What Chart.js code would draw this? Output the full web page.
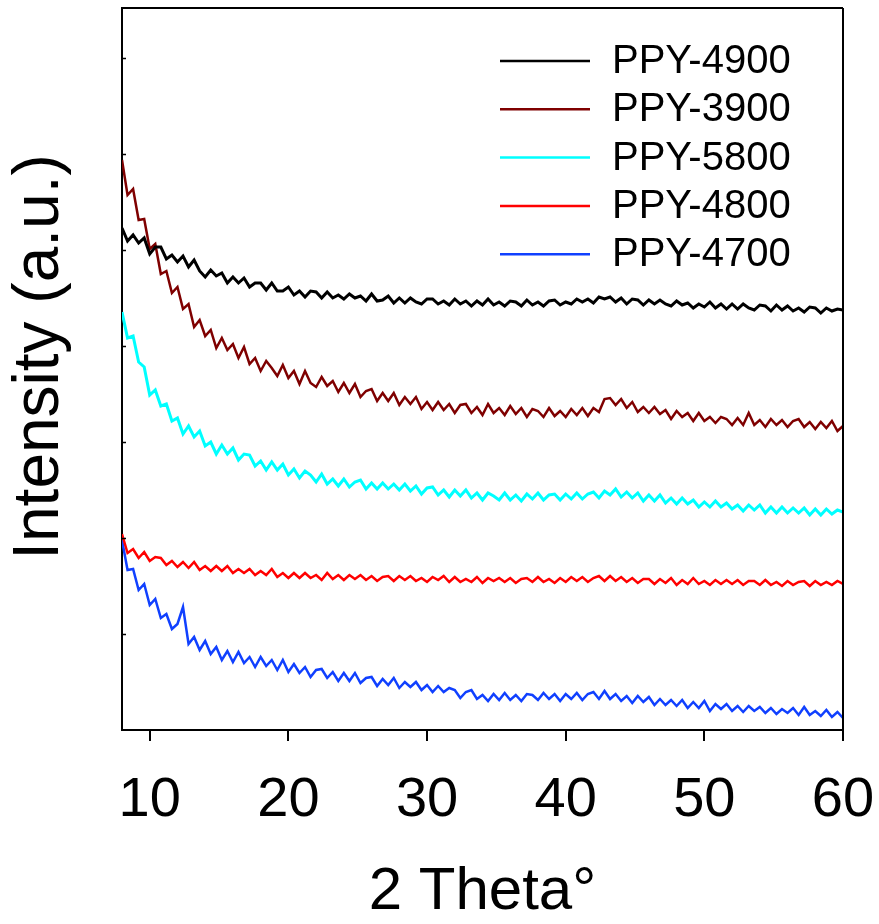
<!DOCTYPE html>
<html>
<head>
<meta charset="utf-8">
<script src="https://cdn.jsdelivr.net/npm/chart.js@4/dist/chart.umd.min.js"></script>
<style>
  html, body { margin: 0; padding: 0; background: #fff; }
  #wrap { width: 879px; height: 924px; position: relative; }
</style>
</head>
<body>
<div id="wrap"><canvas id="xrd"></canvas></div>
<script>
// XRD patterns (intensity in arbitrary units)
const theta = [
  8,8.4,8.8,9.2,9.6,10,10.4,10.8,11.2,11.6,
  12,12.4,12.8,13.2,13.6,14,14.4,14.8,15.2,15.6,
  16,16.4,16.8,17.2,17.6,18,18.4,18.8,19.2,19.6,
  20,20.4,20.8,21.2,21.6,22,22.4,22.8,23.2,23.6,
  24,24.4,24.8,25.2,25.6,26,26.4,26.8,27.2,27.6,
  28,28.4,28.8,29.2,29.6,30,30.4,30.8,31.2,31.6,
  32,32.4,32.8,33.2,33.6,34,34.4,34.8,35.2,35.6,
  36,36.4,36.8,37.2,37.6,38,38.4,38.8,39.2,39.6,
  40,40.4,40.8,41.2,41.6,42,42.4,42.8,43.2,43.6,
  44,44.4,44.8,45.2,45.6,46,46.4,46.8,47.2,47.6,
  48,48.4,48.8,49.2,49.6,50,50.4,50.8,51.2,51.6,
  52,52.4,52.8,53.2,53.6,54,54.4,54.8,55.2,55.6,
  56,56.4,56.8,57.2,57.6,58,58.4,58.8,59.2,59.6,60
]

const ppy4900 = [
  502,489,495,487,492,476,483,483,471,475,
  468,474,463,470,459,453,460,454,457,447,
  453,447,452,443,447,447,440,447,439,439,
  443,435,439,433,439,438,432,438,432,435,
  431,436,432,434,429,436,429,430,434,427,
  432,427,432,428,426,431,431,426,429,425,
  431,426,429,424,429,425,431,425,428,424,
  429,428,424,430,425,428,424,429,430,425,
  428,426,431,428,431,427,433,431,433,428,
  432,426,431,430,425,430,426,430,426,424,
  429,425,427,422,426,423,428,422,426,421,
  426,421,426,422,420,425,424,419,425,420,
  424,419,422,418,423,422,417,422,419,421,420
]
const ppy3900 = [
  570,535,541,510,511,481,486,456,459,437,
  443,421,426,403,410,394,400,382,392,380,
  386,372,383,366,372,359,369,362,354,365,
  352,359,346,359,347,343,353,344,349,338,
  347,337,346,333,339,341,329,337,329,337,
  325,333,326,333,321,328,320,328,320,326,
  317,325,326,317,323,315,326,317,322,315,
  324,316,322,313,321,319,313,322,314,319,
  313,321,315,322,314,322,318,331,332,325,
  331,322,328,318,323,317,323,316,320,311,
  319,313,317,309,317,309,313,307,313,311,
  305,312,305,317,305,310,303,311,305,310,
  303,309,311,303,308,301,308,302,309,299,304
]
const ppy5800 = [
  418,392,394,368,363,335,340,324,326,309,
  312,296,304,293,299,284,288,276,285,276,
  282,270,276,275,264,269,260,268,260,266,
  255,261,252,259,255,248,256,246,251,244,
  251,243,248,250,241,247,241,247,241,246,
  240,246,239,244,236,242,243,235,240,233,
  240,234,240,232,237,230,237,234,230,237,
  230,235,229,236,231,237,230,235,236,230,
  236,231,237,231,236,238,232,239,235,241,
  233,238,232,237,229,235,229,235,227,232,
  226,232,226,230,223,228,223,229,223,227,
  221,225,219,225,220,225,217,223,217,223,
  217,222,217,222,215,221,215,221,216,220,218
]
const ppy4800 = [
  196,177,181,172,178,169,173,172,165,169,
  163,168,162,168,160,164,159,164,159,164,
  157,161,157,161,155,159,155,161,153,157,
  152,157,152,157,152,155,150,157,151,155,
  150,155,151,155,150,154,149,153,154,149,
  154,150,154,149,152,148,153,150,154,148,
  153,148,151,148,153,147,152,149,152,148,
  152,147,151,152,148,153,148,151,147,152,
  148,153,149,153,148,152,154,149,154,149,
  153,148,152,147,151,151,146,151,147,152,
  145,150,146,152,146,149,145,150,146,150,
  146,150,145,149,149,145,150,145,148,144,
  149,145,148,149,144,149,145,148,145,149,146
]
const ppy4700 = [
  190,160,161,140,146,125,131,112,116,101,
  106,123,86,93,80,89,76,83,70,79,
  68,78,67,73,63,73,64,70,60,70,
  58,66,57,63,53,60,61,52,58,49,
  57,49,57,47,52,53,44,51,45,52,
  42,48,43,48,40,45,38,44,38,42,
  40,32,38,40,31,35,29,36,30,37,
  30,35,29,36,35,30,37,31,36,29,
  36,31,37,30,36,38,31,39,31,36,
  29,34,27,34,28,33,25,31,25,30,
  24,30,22,28,22,29,19,26,21,26,
  19,24,18,24,19,23,17,22,16,21,
  17,22,15,23,15,19,14,20,13,18,12
]

const seriesNames = ['PPY-4900','PPY-3900','PPY-5800','PPY-4800','PPY-4700']
const seriesColors = ['#000000','#7f0000','#00ffff','#ff0000','#1040ff']
const seriesWidths = [3, 2.5, 3, 2.5, 2.5]
const seriesValues = [ppy4900, ppy3900, ppy5800, ppy4800, ppy4700]
const xTicks = [10,20,30,40,50,60]
const yTicks = [96,192,288,384,480,576,672]

const FONT = '"Liberation Sans", Arial, sans-serif'

// box frame, inward y ticks, y title and the legend in the top right
const framePlugin = {
  id: 'frame',
  afterDraw(chart){
    const {ctx, chartArea: a} = chart
    const ys = chart.scales.y
    ctx.save()
    ctx.strokeStyle = '#000'
    ctx.lineWidth = 2
    ctx.beginPath()
    ctx.moveTo(a.left, a.top); ctx.lineTo(a.right, a.top)
    ctx.moveTo(a.right, a.top); ctx.lineTo(a.right, a.bottom)
    ctx.stroke()
    ctx.lineWidth = 1.5
    ctx.beginPath()
    yTicks.forEach(v=>{
      const py = Math.round(ys.getPixelForValue(v)) + 0.5
      ctx.moveTo(a.left, py); ctx.lineTo(a.left + 4, py)
    })
    ctx.stroke()

    // y axis title
    ctx.save()
    ctx.translate(40, (a.top + a.bottom)/2 - 12)
    ctx.rotate(-Math.PI/2)
    ctx.font = '64px ' + FONT
    ctx.textAlign = 'center'
    ctx.textBaseline = 'middle'
    ctx.fillStyle = '#000'
    ctx.fillText('Intensity (a.u.)', 0, 0)
    ctx.restore()

    // legend
    ctx.font = '40px ' + FONT
    ctx.textBaseline = 'middle'
    ctx.textAlign = 'left'
    chart.data.datasets.forEach((ds, i)=>{
      const y = a.top + 53 + i*48.3
      ctx.strokeStyle = ds.borderColor
      ctx.lineWidth = 2.5
      ctx.beginPath(); ctx.moveTo(a.left + 378, y); ctx.lineTo(a.left + 468, y); ctx.stroke()
      ctx.fillStyle = '#000'
      ctx.fillText(ds.label, a.left + 490, y + 1)
    })
    ctx.restore()
  }
}

const datasets = seriesNames.map((name, k)=>({
  label: name,
  data: theta.map((t, i)=> ({x: t, y: seriesValues[k][i]})),
  borderColor: seriesColors[k],
  backgroundColor: seriesColors[k],
  borderWidth: seriesWidths[k],
  pointRadius: 0,
  tension: 0,
  fill: false
}))

new Chart(document.getElementById('xrd').getContext('2d'), {
  type: 'line',
  data: { datasets },
  options: {
    responsive: true, maintainAspectRatio: false, animation: false,
    layout: { padding: { top: 8, right: 36, left: 0, bottom: 0 } },
    plugins: { legend: { display: false }, tooltip: { enabled: false } },
    scales: {
      x: {
        type: 'linear', min: 8, max: 60,
        afterBuildTicks: s=> { s.ticks = xTicks.map(v=> ({value: v})) },
        afterFit: s=> { s.height = 194; s.paddingLeft = 0; s.paddingRight = 0 },
        border: { display: true, color: '#000', width: 2 },
        grid: { display: true, drawOnChartArea: false, drawTicks: true, tickLength: 11, color: '#000', lineWidth: 2 },
        ticks: { color: '#000', padding: 26, maxRotation: 0, font: { family: FONT, size: 56 } },
        title: { display: true, text: '2 Theta°', color: '#000', padding: { top: 0, bottom: 2 }, font: { family: FONT, size: 60, lineHeight: 1 } }
      },
      y: {
        min: 0, max: 722,
        afterBuildTicks: s=> { s.ticks = yTicks.map(v=> ({value: v})) },
        afterFit: s=> { s.width = 122 },
        border: { display: true, color: '#000', width: 2 },
        grid: { display: false },
        ticks: { display: false },
        title: { display: false }
      }
    }
  },
  plugins: [framePlugin]
})
</script>
</body>
</html>
